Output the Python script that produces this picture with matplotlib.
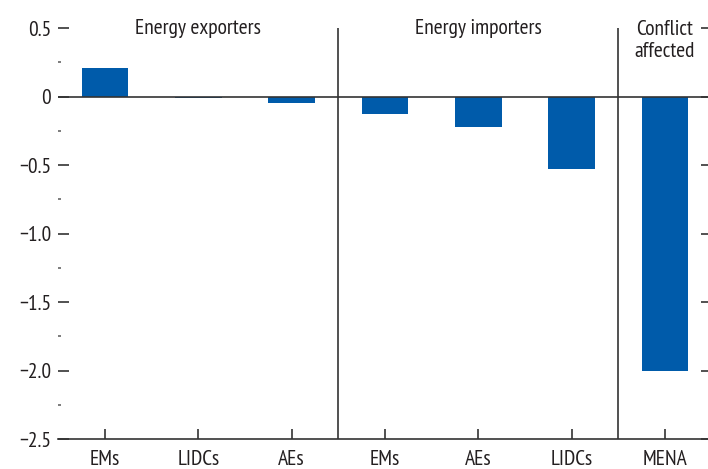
import matplotlib
matplotlib.use("Agg")
import matplotlib.pyplot as plt
from matplotlib.ticker import MultipleLocator
import numpy as np

plt.rcParams['font.family'] = ['PT Sans Narrow', 'DejaVu Sans']

categories = ["EMs", "LIDCs", "AEs", "EMs", "AEs", "LIDCs", "MENA"]
values = [0.21, -0.01, -0.05, -0.13, -0.22, -0.53, -2.0]
groups = ["Energy exporters", "Energy importers", "Conflict\naffected"]
group_centers = [1, 4, 6]
separators = [2.5, 5.5]

blue = "#005BAA"
grey = "#333333"
txt = "#231F20"
fs = 15.5

fig = plt.figure(figsize=(7.08, 4.69), dpi=100)
ax = fig.add_axes([58.3 / 708, 30 / 469, (711.7 - 58.3) / 708, (439 - 28) / 469])

x = np.arange(len(categories))
ax.bar(x, values, width=0.5, color=blue, zorder=2)
ax.axhline(0, color=grey, lw=1.2, zorder=3)
for s in separators:
    ax.axvline(s, color=grey, lw=1.2, zorder=3)

ax.set_xlim(-0.5, 6.5)
ax.set_ylim(-2.5, 0.5)

for sp in ["top", "left", "right"]:
    ax.spines[sp].set_visible(False)
ax.spines["bottom"].set_color(grey)
ax.spines["bottom"].set_linewidth(1.2)

ax.set_xticks(x)
ax.set_xticklabels(categories)
ax.yaxis.set_major_locator(MultipleLocator(0.5))
ax.yaxis.set_minor_locator(MultipleLocator(0.25))
ax.set_yticklabels([("\u2212" if v < 0 else "") + (f"{abs(v):.1f}" if v != 0 else "0")
                    for v in ax.get_yticks()])

ax.tick_params(axis="x", direction="in", length=7, width=1.2, color=grey,
               labelsize=fs, labelcolor=txt, pad=8)
ax.tick_params(axis="y", which="major", direction="in", length=8, width=1.2, color=grey,
               labelsize=fs, labelcolor=txt, pad=5, right=True)
ax.tick_params(axis="y", which="minor", direction="in", length=2.5, width=1.2,
               color="#666666", right=True)

ax.text(group_centers[0], 0.5, groups[0], ha="center", va="center", fontsize=fs, color=txt)
ax.text(group_centers[1], 0.5, groups[1], ha="center", va="center", fontsize=fs, color=txt)
ax.text(group_centers[2], 0.56, groups[2], ha="center", va="top", fontsize=fs, color=txt,
        linespacing=1.2)

fig.savefig("out.png", dpi=100)
